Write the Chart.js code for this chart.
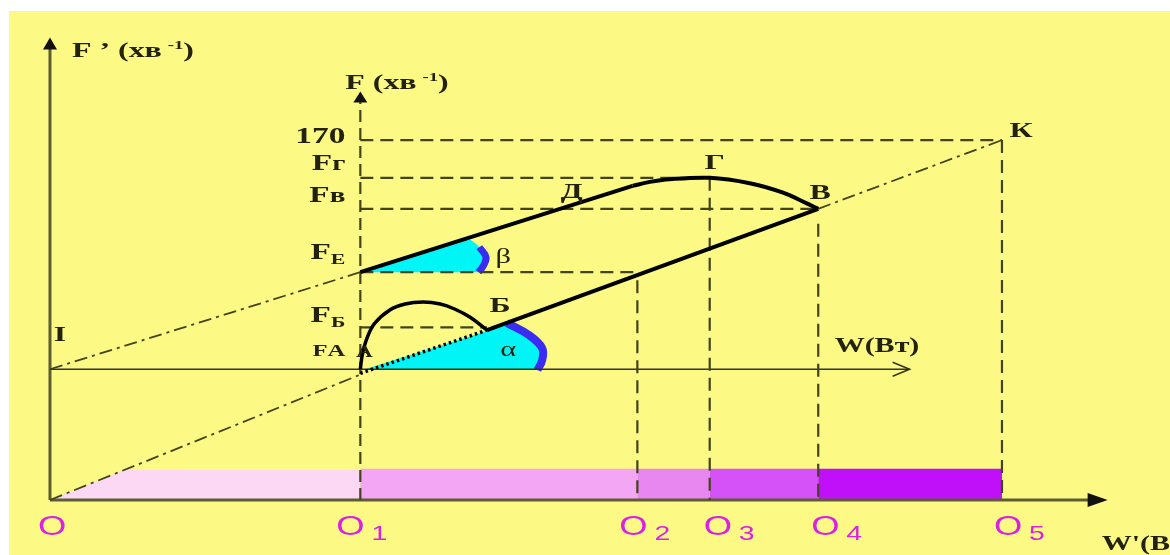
<!DOCTYPE html>
<html>
<head>
<meta charset="utf-8">
<script src="https://cdn.jsdelivr.net/npm/chart.js@4.4.0/dist/chart.umd.min.js"></script>
<style>
  body { margin: 0; background: #fff; }
  canvas { display: block; }
</style>
</head>
<body>
<canvas id="chart" width="1170" height="555"></canvas>
<script>
// outer system W'-F': points O..O5 on the W' axis
const oNames = ['O', 'O1', 'O2', 'O3', 'O4', 'O5'];
const oW = [0, 32.6, 61.7, 69.3, 80.7, 100];
// inner system W-F starts at O1, lifted to this F' level
const fOrigin = 97;

// levels on the inner F axis
const fNames = ['FА', 'FБ', 'FЕ', 'Fв', 'Fг', '170'];
const fLevels = [0, 31, 72, 119, 142, 170];

// characteristic points, inner W-F
const ptA = [0, -4];
const ptB = [13.3, 29];     // Б
const ptE = [0, 72];
const ptD = [28.6, 136];    // Д, end of straight part
const ptV = [48.1, 119];    // В
const ptK = [67.4, 170];

// start-up arc А..Б
const arcW = [0, 0.2, 0.7, 1.5, 3.1, 4.7, 6.6, 8.4, 9.9, 11.5, 13.3];
const arcF = [0, 10.5, 23, 34, 44, 48.4, 49.8, 48.4, 44.7, 38.7, 29];

// hump Д..Г..В
const humpW = [28.6, 30.4, 32.5, 36.7, 40.9, 44.4, 46.9, 48.1];
const humpF = [136, 139, 141, 142, 138, 131, 123, 119];

// angle α and β sectors
const alphaW = [0.5, 13.3, 15.4, 17.7, 19.1, 19.1, 18.6];
const alphaF = [0, 28.3, 34.3, 25.4, 15.7, 6.8, -0.6];
const betaW = [0, 11.1, 12.5, 13.2, 12.9, 12.4];
const betaF = [72, 96.5, 90.6, 83.2, 76.5, 72];

// zones under the W' axis
const zoneTop = [22.3, 23.1, 23.1, 23.1, 23.1];

// axis extents
const wAxisEnd = 57.7;      // inner W
const fAxisTop = 206;       // inner F
const outerXEnd = 111.1;    // W'
const outerYTop = 343;      // F'

const INK = '#000000';
const DASH = '#43431d';
const AXIS = '#5d5d33';
const PAPER = '#fcfa84';
const TEXT = '#22220e';
const MAGENTA = '#d920e3';
const zoneColors = ['#fcd8f5', '#f3a6f3', '#e987f1', '#d552f8', '#bf10f9'];
const SERIF = "'Liberation Serif', 'DejaVu Serif', serif";
const SANS = "'Liberation Sans', 'DejaVu Sans', sans-serif";

const inner = (w, f) => ({ x: w + oW[1], y: f + fOrigin });
const zip = (ws, fs) => ws.map((w, i) => inner(w, fs[i]));

const datasets = [];
function add(data, opt) {
  datasets.push(Object.assign({
    data: data,
    pointRadius: 0,
    borderColor: DASH,
    borderWidth: 2.2,
    fill: false,
    tension: 0,
    order: -datasets.length
  }, opt));
}

// zones O..O5; the first one is cut by the O-А line
const slope = (ptA[1] + fOrigin) / oW[1];
oW.slice(0, 5).forEach((w, i) => {
  const top = zoneTop[i];
  const left = i === 0 ? [{ x: 0, y: 0 }, { x: top / slope, y: top }] : [{ x: w, y: 0 }, { x: w, y: top }];
  add(left.concat([{ x: oW[i + 1], y: top }, { x: oW[i + 1], y: 0 }]), {
    borderWidth: 0, borderColor: 'rgba(0,0,0,0)', fill: 'shape', backgroundColor: zoneColors[i]
  });
});

// sectors
add(zip(alphaW, alphaF), { borderWidth: 0, borderColor: 'rgba(0,0,0,0)', fill: 'shape', backgroundColor: '#00f6f6', tension: 0.3 });
add(zip(betaW, betaF), { borderWidth: 0, borderColor: 'rgba(0,0,0,0)', fill: 'shape', backgroundColor: '#00f6f6', tension: 0.3 });
add(zip(alphaW.slice(2), alphaF.slice(2)), { borderColor: '#3a2cf0', borderWidth: 8, tension: 0.4 });
add(zip(betaW.slice(2), betaF.slice(2)), { borderColor: '#3a2cf0', borderWidth: 7, tension: 0.4 });

// outer axes
add([{ x: 0, y: 0 }, { x: 0, y: outerYTop - 6 }], { borderColor: AXIS, borderWidth: 3 });
add([{ x: 0, y: 0 }, { x: outerXEnd - 1.5, y: 0 }], { borderColor: AXIS, borderWidth: 3 });
// inner axes
add([inner(0, -fOrigin), inner(0, fAxisTop - 6)], { borderDash: [12, 6] });
add([inner(-oW[1], 0), inner(wAxisEnd, 0)], { borderColor: '#33331a', borderWidth: 1.5 });

// level lines and drop lines
const levelEnd = [null, ptB[0], oW[2] - oW[1], ptV[0], humpW[3], ptK[0]];
fLevels.forEach((f, i) => {
  if (levelEnd[i] === null) return;
  add([inner(0, f), inner(levelEnd[i], f)], { borderDash: [13, 7] });
});
[[oW[2], fLevels[2] - 6], [oW[3], fLevels[4]], [oW[4], fLevels[3] - 11], [oW[5], fLevels[5]]].forEach(d => {
  add([{ x: d[0], y: d[1] + fOrigin }, { x: d[0], y: 0 }], { borderDash: [13, 7] });
});

// thin diagonals I-Е, O-А, В-К
add([inner(-oW[1], 0), inner(ptE[0], ptE[1])], { borderWidth: 1.8, borderDash: [13, 5, 3, 5] });
add([{ x: 0, y: 0 }, inner(ptA[0], ptA[1])], { borderWidth: 1.8, borderDash: [13, 5, 3, 5] });
add([inner(ptV[0], ptV[1]), inner(ptK[0], ptK[1])], { borderWidth: 1.8, borderDash: [13, 5, 3, 5] });

// characteristic
add([inner(ptA[0], ptA[1] + 1), inner(ptB[0], ptB[1])], { borderColor: INK, borderWidth: 3.5, borderDash: [2.5, 3] });
add(zip(arcW, arcF), { borderColor: INK, borderWidth: 3.5, tension: 0.4 });
add([inner(ptB[0], ptB[1]), inner(ptV[0], ptV[1])], { borderColor: INK, borderWidth: 4 });
add([inner(ptE[0], ptE[1]), inner(ptD[0], ptD[1])], { borderColor: INK, borderWidth: 4 });
add(zip(humpW, humpF), { borderColor: INK, borderWidth: 4, tension: 0.35 });

function drawRuns(ctx, x, y, parts, sx, align) {
  let total = 0;
  parts.forEach(p => { ctx.font = p[1]; total += ctx.measureText(p[0]).width + (p[3] || 0); });
  let cx = align === 'right' ? x - total * sx : align === 'center' ? x - total * sx / 2 : x;
  parts.forEach(p => {
    ctx.font = p[1];
    ctx.save();
    ctx.translate(cx, y + (p[2] || 0));
    ctx.scale(sx, 1);
    ctx.fillText(p[0], 0, 0);
    ctx.restore();
    cx += (ctx.measureText(p[0]).width + (p[3] || 0)) * sx;
  });
}

const paper = {
  id: 'paper',
  beforeDraw(chart) {
    const ctx = chart.ctx;
    ctx.save();
    ctx.fillStyle = '#ffffff';
    ctx.fillRect(0, 0, chart.width, chart.height);
    ctx.fillStyle = PAPER;
    ctx.fillRect(9, 11, chart.width - 9, chart.height - 11);
    ctx.restore();
  }
};

const marks = {
  id: 'marks',
  afterDatasetsDraw(chart) {
    const { ctx, scales: { x, y } } = chart;
    const X = w => x.getPixelForValue(w);
    const Y = f => y.getPixelForValue(f);
    const iX = w => X(w + oW[1]);
    const iY = f => Y(f + fOrigin);
    const B = s => 'bold ' + s + 'px ' + SERIF;

    ctx.save();
    // arrow heads
    const tri = (a, b, c, color) => {
      ctx.fillStyle = color;
      ctx.beginPath(); ctx.moveTo(a[0], a[1]); ctx.lineTo(b[0], b[1]); ctx.lineTo(c[0], c[1]); ctx.closePath(); ctx.fill();
    };
    let tx = X(0), ty = Y(outerYTop);
    tri([tx, ty], [tx - 7, ty + 12], [tx + 7, ty + 12], '#111');
    tx = iX(0); ty = iY(fAxisTop);
    tri([tx, ty], [tx - 7, ty + 11], [tx + 7, ty + 11], '#111');
    tx = X(outerXEnd); ty = Y(0);
    tri([tx, ty], [tx - 20, ty - 7], [tx - 20, ty + 7], '#111');
    tx = iX(wAxisEnd); ty = iY(0);
    ctx.strokeStyle = '#33331a'; ctx.lineWidth = 1.5;
    ctx.beginPath(); ctx.moveTo(tx - 17, ty - 7); ctx.lineTo(tx, ty); ctx.lineTo(tx - 17, ty + 7); ctx.stroke();

    ctx.fillStyle = TEXT;
    ctx.textBaseline = 'alphabetic';
    const SX = 1.45;

    // axis titles
    drawRuns(ctx, X(0) + 22, Y(outerYTop) + 19,
      [['F \u2019 (хв', B(22), 0, 4], ['-1', B(13), -8], [')', B(22)]], SX, 'left');
    drawRuns(ctx, iX(0) - 15, iY(fAxisTop) - 3,
      [['F (хв', B(22), 0, 4], ['-1', B(13), -8], [')', B(22)]], SX, 'left');
    drawRuns(ctx, iX(wAxisEnd) - 75, iY(0) - 17, [['W(Вт)', B(20)]], 1.5, 'left');
    drawRuns(ctx, X(outerXEnd) - 6, Y(0) + 50, [['W\'(Вт)', B(20)]], 1.5, 'left');

    // F levels
    const levelDy = [-13, -5, -13, -7, -8, 3];
    fNames.forEach((n, i) => {
      let parts;
      if (n === '170') parts = [[n, B(23)]];
      else if (n === 'FА') parts = [[n, B(17)]];
      else if (n === 'FБ' || n === 'FЕ') parts = [['F', B(23)], [n.slice(1), B(15), 5]];
      else parts = [['F', B(23)], [n.slice(1), B(20)]];
      drawRuns(ctx, iX(0) - 15, iY(fLevels[i]) + levelDy[i], parts, SX, 'right');
    });

    // point names
    const names = [
      ['Д', iX(ptD[0]) - 61, iY(ptD[1]) + 12, B(22)],
      ['Г', iX(humpW[3]) + 5, iY(humpF[3]) - 9, B(22)],
      ['В', iX(ptV[0]) + 2, iY(ptV[1]) - 10, B(22)],
      ['К', iX(ptK[0]) + 19, iY(ptK[1]) - 3, B(22)],
      ['Б', iX(ptB[0]) + 13, iY(ptB[1]) - 18, B(22)],
      ['А', iX(0) + 4, iY(0) - 12, B(16)],
      ['I', X(0) + 10, iY(0) - 28, B(22)],
      ['β', iX(0) + 143, iY(ptE[1]) - 9, '21px ' + SERIF],
      ['α', iX(0) + 148, iY(0) - 13, '21px ' + SERIF]
    ];
    names.forEach(n => drawRuns(ctx, n[1], n[2], [[n[0], n[3]]], SX, 'center'));

    // O points
    ctx.fillStyle = MAGENTA;
    const oDx = [-12, -24, -18, -6, -7, -8];
    oNames.forEach((n, i) => {
      const parts = [['O', '27px ' + SANS, 0, 5]];
      if (n.length > 1) parts.push([n.slice(1), '21px ' + SANS, 5]);
      drawRuns(ctx, X(oW[i]) + oDx[i], Y(0) + 35, parts, 1.35, 'left');
    });
    ctx.restore();
  }
};

new Chart(document.getElementById('chart'), {
  type: 'line',
  data: { datasets: datasets },
  options: {
    responsive: false,
    animation: false,
    devicePixelRatio: 1,
    layout: { padding: 0 },
    plugins: { legend: { display: false }, tooltip: { enabled: false }, title: { display: false } },
    scales: {
      x: { type: 'linear', display: false, min: -5.25, max: 117.65 },
      y: { type: 'linear', display: false, min: -40.8, max: 370.9 }
    }
  },
  plugins: [paper, marks]
});
</script>
</body>
</html>
